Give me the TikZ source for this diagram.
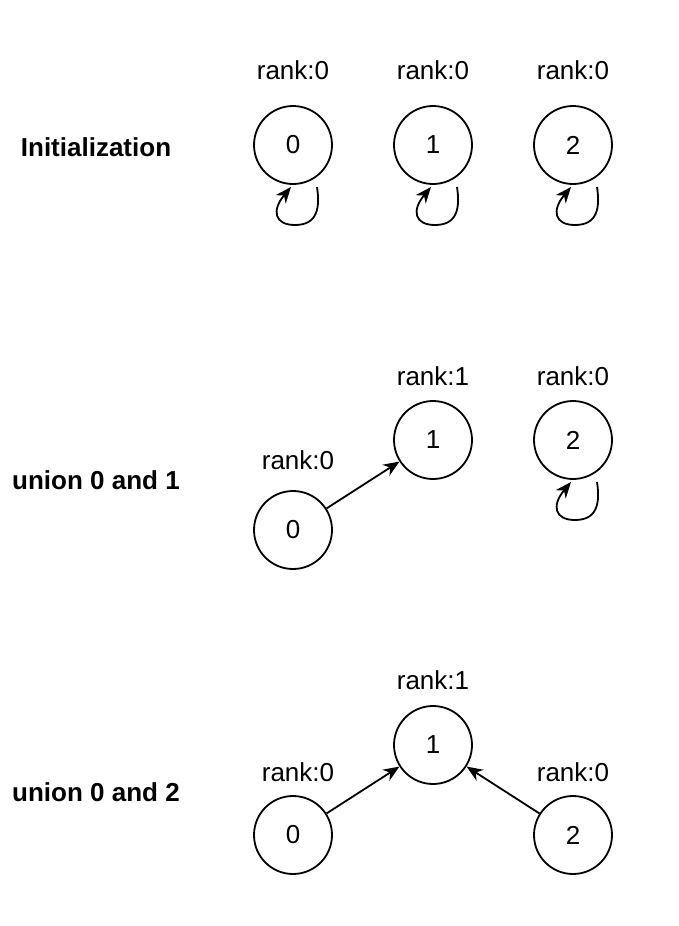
\documentclass[tikz,border=0pt]{standalone}
\usepackage{fontspec}
\setmainfont{Liberation Sans}
\usetikzlibrary{arrows.meta}

\begin{document}
\begin{tikzpicture}[x=1pt,y=-1pt,>={Stealth[length=16pt,width=13pt,inset=5pt]},
    vertex/.style={draw,circle,line width=1.8pt,minimum size=78pt,inner sep=0pt,
      font=\fontsize{26}{30}\selectfont},
    rank/.style={font=\fontsize{26}{30}\selectfont},
    rowtitle/.style={font=\fontsize{26}{30}\selectfont\bfseries},
    link/.style={->,line width=1.8pt}]
        % background
        \useasboundingbox (0,0) rectangle (678,926);
        % initialization
        \node[rowtitle] (t1) at (96,147) {Initialization};
        \foreach \i/\x in {0/293,1/433,2/573} {
          \node[vertex] (a\i) at (\x,145) {\i};
          \node[rank] (ra\i) at (\x,70) {rank:0};
        }
        % union 0 and 1
        \node[rowtitle] (t2) at (96,480) {union 0 and 1};
        \node[vertex] (b1) at (433,440) {1};
        \node[vertex] (b2) at (573,440) {2};
        \node[vertex] (b0) at (293,530) {0};
        \node[rank] (rb1) at (433,376) {rank:1};
        \node[rank] (rb2) at (573,376) {rank:0};
        \node[rank] (rb0) at (298,460) {rank:0};
        \draw[link] (b0) -- (b1);
        % union 0 and 2
        \node[rowtitle] (t3) at (96,792) {union 0 and 2};
        \node[vertex] (c1) at (433,745) {1};
        \node[vertex] (c0) at (293,835) {0};
        \node[vertex] (c2) at (573,835) {2};
        \node[rank] (rc1) at (433,680) {rank:1};
        \node[rank] (rc0) at (298,772) {rank:0};
        \node[rank] (rc2) at (573,772) {rank:0};
        \draw[link] (c0) -- (c1);
        \draw[link] (c2) -- (c1);
        % self loops
        \foreach \v in {a0,a1,a2,b2}
          \draw[link] ([shift={(24,42)}]\v.center)
                  .. controls ([shift={(27,62)}]\v.center) and ([shift={(25,80)}]\v.center) .. ([shift={(2,80)}]\v.center)
                  .. controls ([shift={(-18,80)}]\v.center) and ([shift={(-22,66)}]\v.center) .. ([shift={(-2,42)}]\v.center);
      \end{tikzpicture}
\end{document}
